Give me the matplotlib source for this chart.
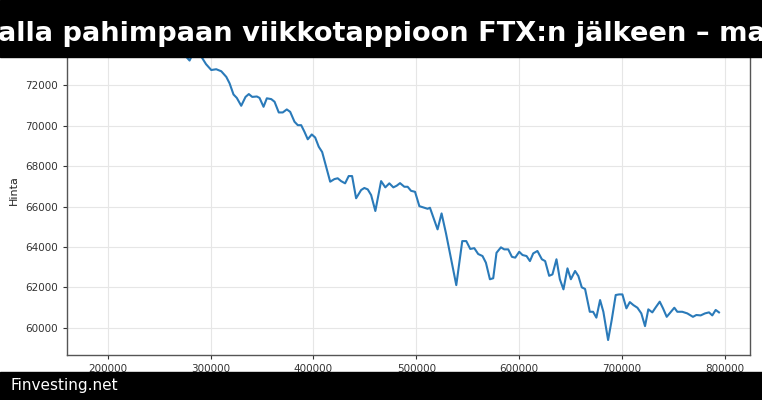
import matplotlib
matplotlib.use("Agg")
import matplotlib.pyplot as plt
from matplotlib.patches import Rectangle

otsikko = "alla pahimpaan viikkotappioon FTX:n jälkeen – ma"
lahde = "Finvesting.net"
y_tikit = [60000, 62000, 64000, 66000, 68000, 70000, 72000]

# x-arvot ja hinnat luettu kuvasta (alku jää otsikkopalkin alle)
x = [190300, 197100, 203900, 210700, 217500, 224300, 231100, 237900, 244700, 251500,
     258300, 265100, 271900, 275700, 279600, 283500, 287400, 291300, 295600, 300700,
     305500, 310400, 315300, 318500, 322300, 325500, 329800, 334000, 337200, 340500,
     345000, 347600, 351500, 354700, 359000, 362200, 366300, 370200, 374100, 377400,
     381600, 384800, 388100, 391300, 394500, 398400, 401700, 405200, 408500, 412400,
     416300, 420400, 423600, 426900, 430800, 434300, 437600, 441500, 446400, 449500,
     452800, 456100, 460200, 465800, 469900, 473800, 477700, 480900, 484200, 488400,
     491600, 494900, 498800, 503000, 507800, 511000, 513300, 517000, 520700, 524600,
     528900, 532100, 535500, 538900, 541800, 544700, 548600, 552500, 556400, 560200,
     564400, 567700, 571600, 574800, 578000, 582300, 585500, 589400, 593000, 596200,
     600100, 603300, 607200, 610500, 613700, 617800, 622100, 625300, 629200, 632400,
     636300, 639600, 643100, 647000, 650300, 654400, 657600, 660900, 664100, 668700,
     671900, 675100, 678700, 681900, 686500, 690000, 693900, 697200, 700400, 704300,
     707600, 711100, 715000, 718800, 722400, 725600, 729500, 732800, 736700, 739900,
     743500, 747400, 750900, 753800, 758600, 763500, 769000, 772300, 776500, 780700,
     784600, 787800, 791100, 794300]
hinta = [74100, 74200, 73950, 74050, 73800, 74000, 73750, 73900, 73650, 73800,
         73600, 73700, 73550, 73450, 73230, 73650, 73600, 73400, 73050, 72760,
         72800, 72700, 72420, 72100, 71550, 71380, 70990, 71430, 71570, 71430,
         71450, 71380, 70940, 71360, 71320, 71190, 70660, 70660, 70810, 70690,
         70200, 70030, 70030, 69700, 69330, 69570, 69420, 68960, 68700, 67970,
         67230, 67360, 67400, 67260, 67150, 67510, 67510, 66410, 66820, 66920,
         66850, 66570, 65780, 67260, 66950, 67150, 66950, 67030, 67160, 66980,
         66980, 66780, 66730, 66020, 65940, 65890, 65940, 65400, 64870, 65660,
         64670, 63850, 63000, 62110, 63200, 64290, 64290, 63900, 63940, 63650,
         63550, 63220, 62400, 62450, 63710, 63980, 63880, 63880, 63510, 63470,
         63760, 63600, 63550, 63300, 63680, 63800, 63390, 63300, 62570, 62640,
         63390, 62400, 61900, 62940, 62400, 62810, 62560, 62000, 61920, 60790,
         60790, 60500, 61370, 60790, 59390, 60380, 61620, 61650, 61650, 60960,
         61270, 61120, 60990, 60710, 60080, 60910, 60760, 61010, 61290, 60960,
         60540, 60780, 60990, 60790, 60790, 60710, 60540, 60630, 60610, 60710,
         60760, 60610, 60880, 60760]

fig = plt.figure(figsize=(7.62, 4.0), dpi=100)
ax = fig.add_axes([0.0875, 0.1125, 0.8968, 0.8225])
ax.plot(x, hinta, color="#2a7ab9", linewidth=1.5)
ax.set_ylabel("Hinta", fontsize=8, color="#222222")
ax.set_yticks(y_tikit)
ax.grid(True, color="#e6e6e6", linewidth=0.8)
ax.set_axisbelow(True)
ax.tick_params(labelsize=7.5, colors="#333333", length=3, width=0.8)
ax.ticklabel_format(style="plain", useOffset=False)
for s in ax.spines.values():
    s.set_color("#555555")
    s.set_linewidth(1.0)

# palkit ylä- ja alareunaan
fig.patches.append(Rectangle((0, 0.8575), 1, 0.1425, transform=fig.transFigure,
                             color="black", zorder=10))
fig.patches.append(Rectangle((0, 0), 1, 0.07, transform=fig.transFigure,
                             color="black", zorder=10))
fig.text(-0.003, 0.915, otsikko, color="white", fontsize=19.6, fontweight="bold",
         ha="left", va="center", zorder=11)
fig.text(0.014, 0.037, lahde, color="white", fontsize=11, ha="left", va="center",
         zorder=11)

fig.savefig("out.png", dpi=100)
